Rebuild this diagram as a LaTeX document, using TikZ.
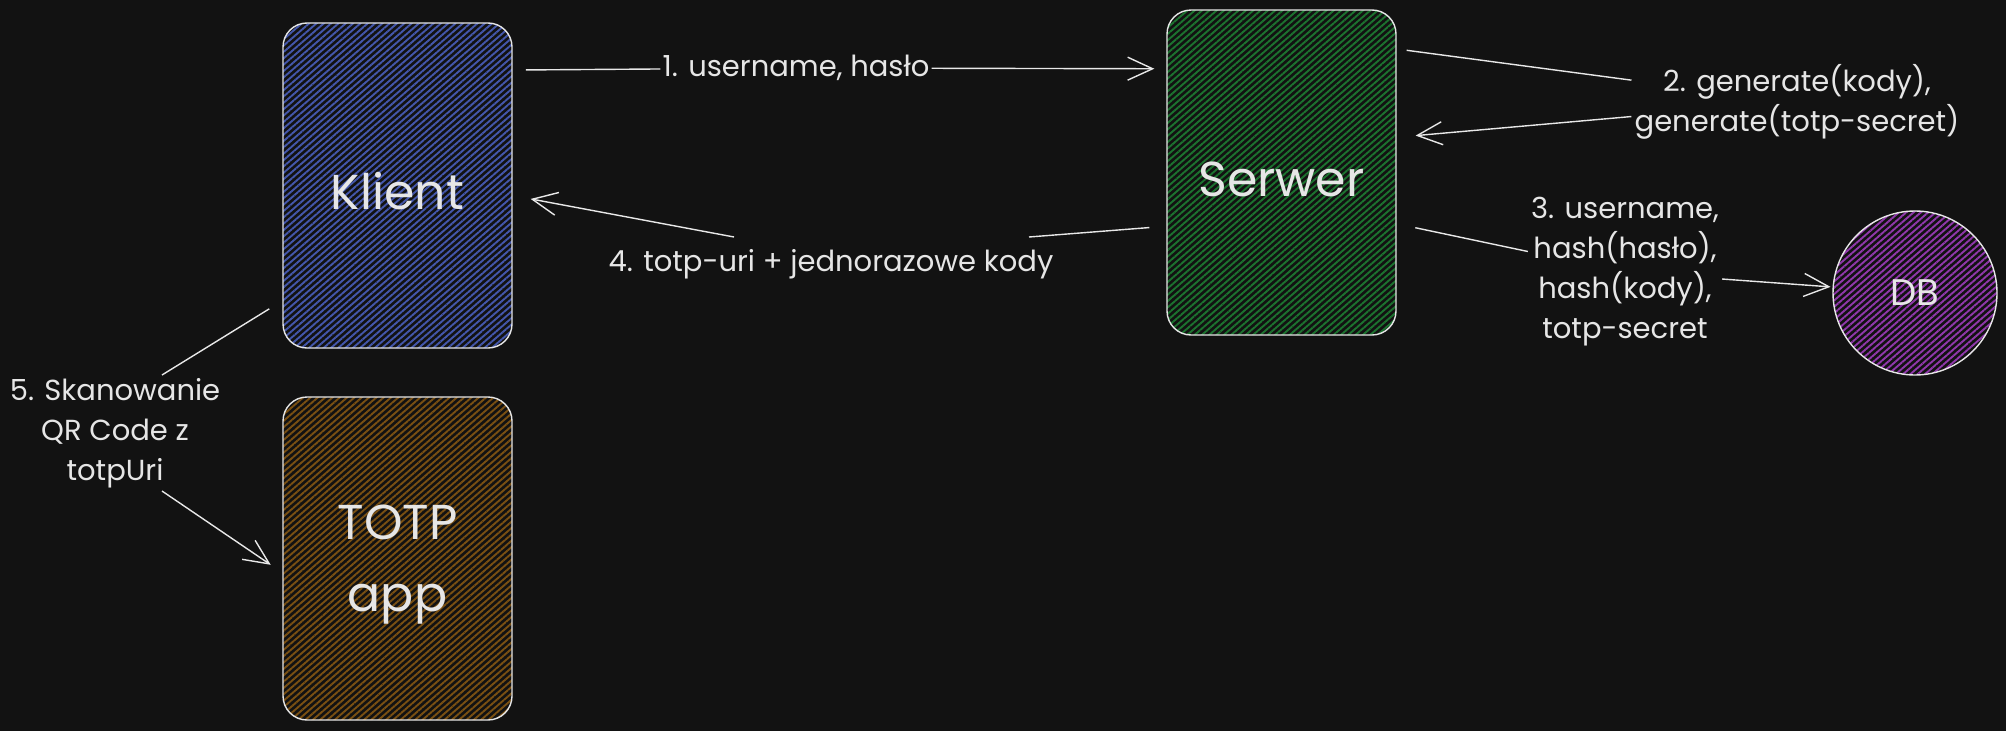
\documentclass[tikz,border=0pt]{standalone}
\usepackage{fontspec}
\setmainfont{Poppins}
\usetikzlibrary{arrows.meta,patterns.meta}
\definecolor{bgc}{HTML}{121212}
\definecolor{ink}{HTML}{E6E6E6}
\definecolor{kblue}{HTML}{4457AC}
\definecolor{sgreen}{HTML}{1C732F}
\definecolor{tbrown}{HTML}{7A5012}
\definecolor{dbpurple}{HTML}{9038AC}

\begin{document}
\begin{tikzpicture}[x=1pt,y=-1pt,
  box/.style={draw=ink, line width=1.4pt, rounded corners=24pt, minimum width=229pt, minimum height=325pt, text=ink, font=\fontsize{49}{72}\selectfont, text depth=0pt},
  hatch/.style={pattern={Lines[angle=41,distance=4.8pt,line width=1.9pt]}, pattern color=#1},
  lbl/.style={text=ink, font=\fontsize{29}{40}\selectfont, align=center, inner sep=3pt},
  conn/.style={draw=ink!90, line width=1.4pt},
  arr/.style={conn, -{Straight Barb[length=25pt,width=23pt]}}]
\fill[bgc] (0,0) rectangle (2006,731);
\node[box, hatch=kblue, text height=48pt] (klient) at (397.5,185.5) {Klient};
\node[box, hatch=sgreen, text height=48pt] (serwer) at (1281.5,172.5) {Serwer};
\node[box, hatch=tbrown, minimum height=323pt, align=center, text depth=-10pt] (totp) at (397.5,558.5) {TOTP\\app};
\node[circle, draw=ink, line width=1.4pt, hatch=dbpurple, minimum size=164pt, inner sep=0pt, text=ink, font=\fontsize{37}{40}\selectfont] (db) at (1915,293) {DB};
\node[lbl, inner sep=2pt] (l1) at (796,68) {1. username, hasło};
\node[lbl] (l2) at (1797,102) {2. generate(kody),\\generate(totp-secret)};
\node[lbl] (l3) at (1625,272) {3. username,\\hash(hasło),\\hash(kody),\\totp-secret};
\node[lbl] (l4) at (831,264) {4. totp-uri + jednorazowe kody};
\node[lbl] (l5) at (115,433) {5. Skanowanie\\QR Code z\\totpUri};
\coordinate (c4a) at (1029,237);
\coordinate (c4b) at (734,237);
\draw[conn, shorten <=13pt] (klient.45) -- (l1);
\draw[arr, shorten >=12pt] (l1) -- (serwer.138);
\draw[conn, shorten <=10pt] (serwer.47) -- (l2);
\draw[arr, shorten >=19pt] (l2) -- (serwer.17);
\draw[conn, shorten <=19pt] (serwer.-24) -- (l3);
\draw[arr, shorten >=2pt] (l3) -- (db);
\draw[conn, shorten <=17pt] (serwer.205) -- (c4a);
\draw[arr, shorten >=18pt] (c4b) -- (klient.-5);
\draw[conn, shorten <=15pt] (klient.225) -- ([xshift=47pt]l5.north);
\draw[arr, shorten >=14pt] ([xshift=47pt]l5.south) -- (totp.187);
\end{tikzpicture}
\end{document}
